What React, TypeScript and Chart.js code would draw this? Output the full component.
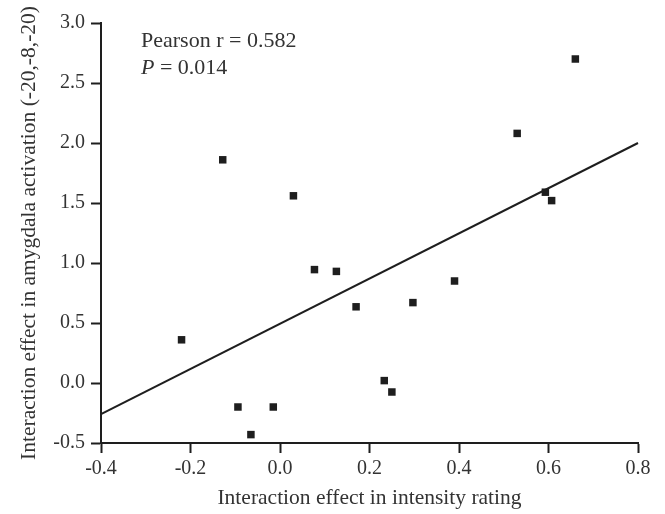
import React, { useEffect, useRef } from 'react';
import { Chart, registerables } from 'chart.js';

Chart.register(...registerables);

// Scatter data: interaction effect in intensity rating (x) vs amygdala activation (y)
const intensityX = [-0.22, -0.128, -0.094, -0.065, -0.015, 0.03, 0.077, 0.126, 0.17, 0.233, 0.25, 0.297, 0.39, 0.53, 0.593, 0.607, 0.66];
const amygdalaY = [0.36, 1.86, -0.2, -0.43, -0.2, 1.56, 0.945, 0.93, 0.635, 0.02, -0.075, 0.67, 0.85, 2.08, 1.59, 1.52, 2.7];

// Regression line endpoints
const fitX = [-0.4, 0.8];
const fitY = [-0.26, 2.0];

const xTicks = [-0.4, -0.2, 0.0, 0.2, 0.4, 0.6, 0.8];
const yTicks = [-0.5, 0.0, 0.5, 1.0, 1.5, 2.0, 2.5, 3.0];

const xTitle = 'Interaction effect in intensity rating';
const yTitle = 'Interaction effect in amygdala activation (-20,-8,-20)';
const statLine1 = 'Pearson r = 0.582';
const statP = 'P';
const statLine2Rest = ' = 0.014';

const SERIF = '"Liberation Serif", "Times New Roman", serif';
const INK = '#1e1e1e';
const TEXT = '#333333';

const annotationPlugin = {
  id: 'statsText',
  afterDraw(chart: any) {
    const ctx = chart.ctx as CanvasRenderingContext2D;
    ctx.save();
    ctx.fillStyle = TEXT;
    ctx.textBaseline = 'alphabetic';
    ctx.textAlign = 'left';
    ctx.font = `22px ${SERIF}`;
    const x0 = chart.chartArea.left + 40;
    ctx.fillText(statLine1, x0, 47);
    ctx.font = `italic 22px ${SERIF}`;
    ctx.fillText(statP, x0, 74);
    const pw = ctx.measureText(statP).width;
    ctx.font = `22px ${SERIF}`;
    ctx.fillText(statLine2Rest, x0 + pw, 74);
    ctx.restore();
  },
};

export default function App() {
  const ref = useRef<HTMLCanvasElement | null>(null);

  useEffect(() => {
    document.body.style.margin = '0';
    const canvas = ref.current;
    if (!canvas) return;
    const points = intensityX.map((x, i) => ({ x, y: amygdalaY[i] }));
    const fit = fitX.map((x, i) => ({ x, y: fitY[i] }));

    const chart = new Chart(canvas, {
      type: 'scatter',
      data: {
        datasets: [
          {
            type: 'line',
            data: fit,
            borderColor: INK,
            borderWidth: 2,
            pointRadius: 0,
            fill: false,
            tension: 0,
            clip: false,
          } as any,
          {
            type: 'scatter',
            data: points,
            pointStyle: 'rect',
            pointRadius: 5.3,
            pointBackgroundColor: INK,
            pointBorderColor: INK,
            pointBorderWidth: 0,
            clip: false,
          } as any,
        ],
      },
      options: {
        responsive: false,
        animation: false,
        devicePixelRatio: 1,
        layout: { padding: { top: 23, right: 27, left: 0, bottom: 0 } },
        plugins: {
          legend: { display: false },
          tooltip: { enabled: false },
        },
        scales: {
          x: {
            type: 'linear',
            min: -0.4,
            max: 0.8,
            afterBuildTicks: (scale: any) => {
              scale.ticks = xTicks.map((v) => ({ value: v }));
            },
            afterFit: (scale: any) => {
              scale.height = 71;
            },
            grid: {
              drawOnChartArea: false,
              drawTicks: true,
              tickLength: 10,
              tickWidth: 2,
              tickColor: INK,
            },
            border: { display: true, color: INK, width: 2 },
            ticks: {
              padding: 4,
              color: TEXT,
              font: { family: SERIF, size: 20 },
              maxRotation: 0,
              callback: (v: any) => Number(v).toFixed(1),
            },
            title: {
              display: true,
              text: xTitle,
              color: TEXT,
              font: { family: SERIF, size: 21.5 },
              padding: { top: 0, bottom: 3 },
            },
          },
          y: {
            type: 'linear',
            min: -0.5,
            max: 3.0,
            afterBuildTicks: (scale: any) => {
              scale.ticks = yTicks.map((v) => ({ value: v }));
            },
            afterFit: (scale: any) => {
              scale.width = 101;
            },
            grid: {
              drawOnChartArea: false,
              drawTicks: true,
              tickLength: 10,
              tickWidth: 2,
              tickColor: INK,
            },
            border: { display: true, color: INK, width: 2 },
            ticks: {
              padding: 6,
              color: TEXT,
              font: { family: SERIF, size: 20 },
              callback: (v: any) => Number(v).toFixed(1),
            },
            title: {
              display: true,
              text: yTitle,
              color: TEXT,
              font: { family: SERIF, size: 21.5 },
              padding: { top: 16, bottom: 0 },
            },
          },
        },
      },
      plugins: [annotationPlugin],
    });

    return () => chart.destroy();
  }, []);

  return (
    <div style={{ width: 665, height: 514 }}>
      <canvas ref={ref} width={665} height={514} style={{ display: 'block', width: 665, height: 514 }} />
    </div>
  );
}
